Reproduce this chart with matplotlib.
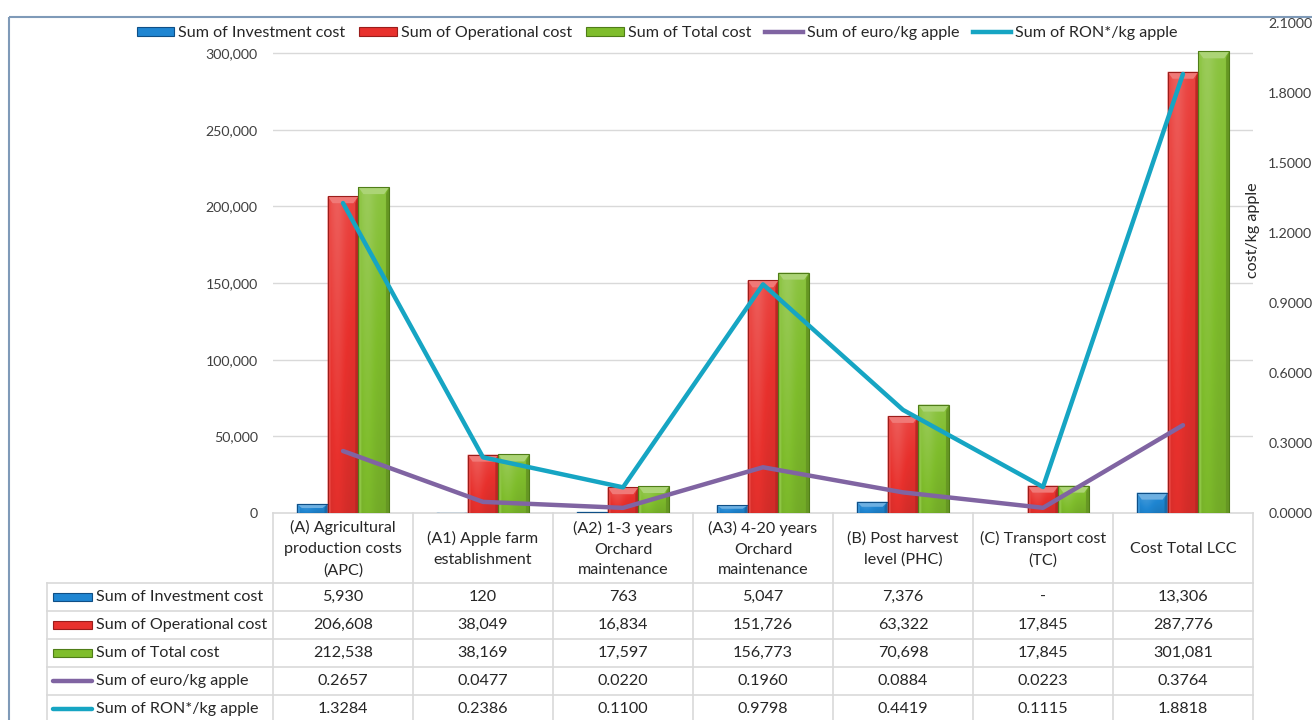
import numpy as np
import matplotlib
matplotlib.use("Agg")
import matplotlib.pyplot as plt
import matplotlib.colors as mcolors
from matplotlib.patches import Rectangle, Polygon
from matplotlib.lines import Line2D

# ---------------------------------------------------------------- data
categories = [
    "(A) Agricultural\nproduction costs\n(APC)",
    "(A1) Apple farm\nestablishment",
    "(A2) 1-3 years\nOrchard\nmaintenance",
    "(A3) 4-20 years\nOrchard\nmaintenance",
    "(B) Post harvest\nlevel (PHC)",
    "(C) Transport cost\n(TC)",
    "Cost Total LCC",
]
investment_cost = [5930, 120, 763, 5047, 7376, 0, 13306]
operational_cost = [206608, 38049, 16834, 151726, 63322, 17845, 287776]
total_cost = [212538, 38169, 17597, 156773, 70698, 17845, 301081]
euro_per_kg = [0.2657, 0.0477, 0.0220, 0.1960, 0.0884, 0.0223, 0.3764]
ron_per_kg = [1.3284, 0.2386, 0.1100, 0.9798, 0.4419, 0.1115, 1.8818]

series_names = [
    "Sum of Investment cost",
    "Sum of Operational cost",
    "Sum of Total cost",
    "Sum of euro/kg apple",
    "Sum of RON*/kg apple",
]
cost_ticks = [0, 50000, 100000, 150000, 200000, 250000, 300000]
unit_ticks = [0.0, 0.3, 0.6, 0.9, 1.2, 1.5, 1.8, 2.1]
right_axis_label = "cost/kg apple"

# ---------------------------------------------------------------- style
FONT = "Lato"
plt.rcParams["font.family"] = [FONT, "DejaVu Sans"]
TXT = "#262626"
TICK = "#404040"
GRID = "#d9d9d9"
FS = 11.6
TICK_FS = 10.2
BAR_COLORS = ["#1f86d2", "#e8312d", "#7fbd2c"]
BAR_EDGES = ["#0f4f86", "#9a1d1b", "#4f7d18"]
LINE_COLORS = ["#8064a2", "#16a5c3"]

W, H = 1312, 720
fig = plt.figure(figsize=(W / 100, H / 100), dpi=100)
fig.patch.set_facecolor("white")


def fx(x):
    return x / W


def fy(y):
    return 1 - y / H


# plot area in pixels
PX0, PX1 = 273, 1253
PY_TOP, PY_BOT = 23, 513
PY_GRID_TOP = 53

# overlay for table, frame and keys (pixel coordinates)
tab = fig.add_axes([0, 0, 1, 1], zorder=0)
tab.set_xlim(0, W)
tab.set_ylim(H, 0)
tab.axis("off")

ax = fig.add_axes([fx(PX0), fy(PY_BOT), (PX1 - PX0) / W, (PY_BOT - PY_TOP) / H], zorder=2)
ax.patch.set_alpha(0)
n = len(categories)
x = np.arange(n)
ymax_left = cost_ticks[-1] * (PY_BOT - PY_TOP) / (PY_BOT - PY_GRID_TOP)
ax.set_xlim(-0.5, n - 0.5)
ax.set_ylim(0, ymax_left)

bw = 0.22
offsets = [-bw, 0, bw]
series_vals = [investment_cost, operational_cost, total_cost]

# pixel -> data unit helpers for bevel sizes
px_x = n / (PX1 - PX0)
px_y = ymax_left / (PY_BOT - PY_TOP)


def shade(rgb, f):
    rgb = np.asarray(rgb)
    if f >= 1:
        return tuple(rgb + (1 - rgb) * (f - 1))
    return tuple(rgb * f)


def bevel_bar(patch, color, edge):
    x0, y0 = patch.get_x(), patch.get_y()
    w, h = patch.get_width(), patch.get_height()
    if h <= 0:
        return
    rgb = np.array(mcolors.to_rgb(color))
    nx, ny = 40, 80
    xs = np.linspace(0, 1, nx)
    ys = np.linspace(0, 1, ny)
    hx = 1.0 + 0.08 * np.exp(-((xs - 0.3) / 0.25) ** 2) - 0.10 * (xs > 0.9)
    vy = 1.06 - 0.16 * ys
    fac = vy[:, None] * hx[None, :]
    img = np.empty((ny, nx, 3))
    for c in range(3):
        img[:, :, c] = np.where(fac >= 1, rgb[c] + (1 - rgb[c]) * (fac - 1) * 1.5, rgb[c] * fac)
    img = np.clip(img, 0, 1)
    im = ax.imshow(img, extent=(x0, x0 + w, y0, y0 + h), origin="upper",
                   aspect="auto", interpolation="bilinear", zorder=3)
    im.set_clip_path(patch)
    # top bevel
    dy = min(7 * px_y, h * 0.45)
    dx = min(5 * px_x, w * 0.3)
    top = y0 + h
    ax.add_patch(Polygon([(x0, top), (x0 + w, top), (x0 + w - dx, top - dy), (x0 + dx, top - dy)],
                         closed=True, facecolor=shade(rgb, 1.35), edgecolor="none", zorder=3.5))
    # left / right edge strips
    ax.add_patch(Polygon([(x0, top), (x0 + dx * 0.6, top - dy), (x0 + dx * 0.6, y0), (x0, y0)],
                         closed=True, facecolor=shade(rgb, 1.12), edgecolor="none", zorder=3.4))
    ax.add_patch(Polygon([(x0 + w, top), (x0 + w - dx * 0.6, top - dy), (x0 + w - dx * 0.6, y0), (x0 + w, y0)],
                         closed=True, facecolor=shade(rgb, 0.8), edgecolor="none", zorder=3.4))
    patch.set_facecolor("none")
    patch.set_edgecolor(edge)
    patch.set_linewidth(0.8)
    patch.set_zorder(4)


for vals, off, col, edg in zip(series_vals, offsets, BAR_COLORS, BAR_EDGES):
    bars = ax.bar(x + off, vals, width=bw, color=col, zorder=2)
    for p in bars:
        bevel_bar(p, col, edg)

ax.set_xlim(-0.5, n - 0.5)
ax.set_ylim(0, ymax_left)
ax.set_yticks(cost_ticks)
ax.set_yticklabels([f"{v:,.0f}" for v in cost_ticks])
ax.set_xticks([])
ax.tick_params(axis="y", length=0, pad=11, labelsize=TICK_FS, labelcolor=TICK)
for s in ax.spines.values():
    s.set_visible(False)
for t in cost_ticks[1:]:
    ax.axhline(t, color=GRID, lw=1.0, zorder=1)

# secondary axis with per-kg lines
ax2 = ax.twinx()
ax2.set_zorder(3)
ax2.patch.set_alpha(0)
ax2.set_ylim(0, unit_ticks[-1])
ax2.set_yticks(unit_ticks)
ax2.set_yticklabels([f"{v:.4f}" for v in unit_ticks])
ax2.tick_params(axis="y", length=0, pad=11, labelsize=TICK_FS, labelcolor=TICK)
for s in ax2.spines.values():
    s.set_visible(False)
ax2.plot(x, euro_per_kg, color=LINE_COLORS[0], lw=3.2, solid_joinstyle="round", solid_capstyle="round", zorder=5)
ax2.plot(x, ron_per_kg, color=LINE_COLORS[1], lw=3.2, solid_joinstyle="round", solid_capstyle="round", zorder=6)
fig.text(fx(1253), fy(230), right_axis_label, rotation=90, ha="center", va="center",
         fontsize=FS, color=TXT)

# legend
handles = [Rectangle((0, 0), 1, 1, facecolor=c, edgecolor=e, lw=0.8) for c, e in zip(BAR_COLORS, BAR_EDGES)]
handles += [Line2D([0], [0], color=c, lw=3.2) for c in LINE_COLORS]
fig.legend(handles, series_names, loc="center", bbox_to_anchor=(fx(657), fy(33)), ncol=5,
           frameon=False, fontsize=FS, handlelength=2.35, handleheight=0.5,
           handletextpad=0.25, columnspacing=0.85, labelcolor=TXT)

# ---------------------------------------------------------------- data table
col_w = (PX1 - PX0) / n
row_edges = [583, 611, 639, 667, 695, 723]
KEY_X0, KEY_X1 = 53, 92
LBL_X0 = 47

tab.plot([PX0, PX1], [PY_BOT, PY_BOT], color=GRID, lw=1.2)
for k in range(n + 1):
    xx = PX0 + k * col_w
    tab.plot([xx, xx], [PY_BOT, H], color=GRID, lw=1.2)
tab.plot([LBL_X0, LBL_X0], [row_edges[0], H], color=GRID, lw=1.2)
for yy in row_edges[:-1]:
    tab.plot([LBL_X0, PX1], [yy, yy], color=GRID, lw=1.2)

for k, lab in enumerate(categories):
    tab.text(PX0 + (k + 0.5) * col_w, (PY_BOT + row_edges[0]) / 2 + 1, lab, ha="center", va="center",
             fontsize=FS, color=TXT, linespacing=1.62)

fmt_cost = lambda v: "-" if v == 0 else f"{v:,.0f}"
fmt_unit = lambda v: f"{v:.4f}"
rows = [
    (investment_cost, fmt_cost),
    (operational_cost, fmt_cost),
    (total_cost, fmt_cost),
    (euro_per_kg, fmt_unit),
    (ron_per_kg, fmt_unit),
]
for r, ((vals, fmt), name) in enumerate(zip(rows, series_names)):
    yc = (row_edges[r] + row_edges[r + 1]) / 2
    if r < 3:
        tab.add_patch(Rectangle((KEY_X0, yc - 4), KEY_X1 - KEY_X0, 8, facecolor=BAR_COLORS[r],
                                edgecolor=BAR_EDGES[r], lw=0.8))
    else:
        tab.plot([KEY_X0, KEY_X1], [yc, yc], color=LINE_COLORS[r - 3], lw=3.2, solid_capstyle="round")
    tab.text(KEY_X1 + 4, yc, name, ha="left", va="center", fontsize=FS, color=TXT)
    for k, v in enumerate(vals):
        tab.text(PX0 + (k + 0.5) * col_w, yc, fmt(v), ha="center", va="center", fontsize=FS, color=TXT)

# outer frame
tab.add_patch(Rectangle((9, 17), W + 20, H + 20, facecolor="none", edgecolor="#7f9ab8", lw=1.5))

fig.savefig("out.png", dpi=100)
